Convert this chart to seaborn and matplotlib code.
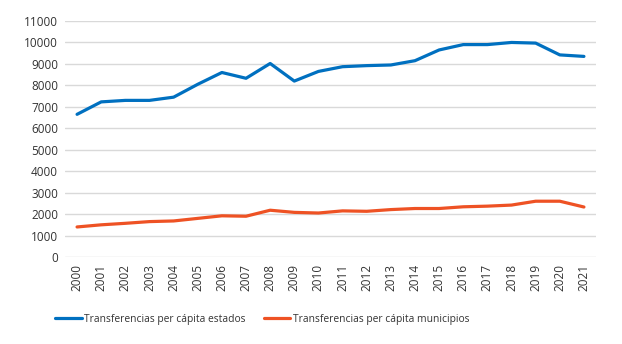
import pandas as pd
import matplotlib.pyplot as plt
import seaborn as sns

years = list(range(2000, 2022))
estados = [6650, 7230, 7300, 7300, 7450, 8050, 8600, 8330, 9020, 8200, 8650,
           8870, 8920, 8950, 9150, 9650, 9900, 9900, 10000, 9970, 9420, 9350]
municipios = [1400, 1500, 1570, 1650, 1680, 1800, 1920, 1900, 2180, 2080, 2050,
              2150, 2130, 2210, 2260, 2260, 2340, 2370, 2420, 2600, 2600, 2330]

lbl_est = 'Transferencias per cápita estados'
lbl_mun = 'Transferencias per cápita municipios'

df = pd.DataFrame({
    'year': years * 2,
    'value': estados + municipios,
    'serie': [lbl_est] * len(years) + [lbl_mun] * len(years),
})

sns.set_style("white")
plt.rcParams['font.family'] = ['Open Sans', 'DejaVu Sans']

fig = plt.figure(figsize=(6.22, 3.44), dpi=100)
ax = fig.add_axes([65 / 622, 1 - 257 / 344, (596 - 65) / 622, (257 - 21) / 344])

sns.lineplot(data=df, x='year', y='value', hue='serie',
             palette={lbl_est: '#0070C0', lbl_mun: '#EE5224'},
             linewidth=2.3, ax=ax)

ax.set_xlim(1999.5, 2021.5)
ax.set_ylim(0, 11000)
ax.set_yticks(range(0, 11001, 1000))
ax.set_xticks(years)
ax.set_xticklabels([str(y) for y in years], rotation=90)
ax.tick_params(axis='both', labelsize=8.5, colors='#333333', length=0, pad=5)
ax.grid(axis='y', color='#D9D9D9', linewidth=1)
ax.set_axisbelow(True)
for s in ax.spines.values():
    s.set_visible(False)
ax.set_xlabel('')
ax.set_ylabel('')

ax.legend(title=None, loc='center', bbox_to_anchor=(0.371, -0.263), ncol=2,
          frameon=False, fontsize=7.4, handlelength=2.6, handletextpad=0.2,
          columnspacing=1.8, labelcolor='#333333')

plt.savefig('out.png', dpi=100)
plt.close()
